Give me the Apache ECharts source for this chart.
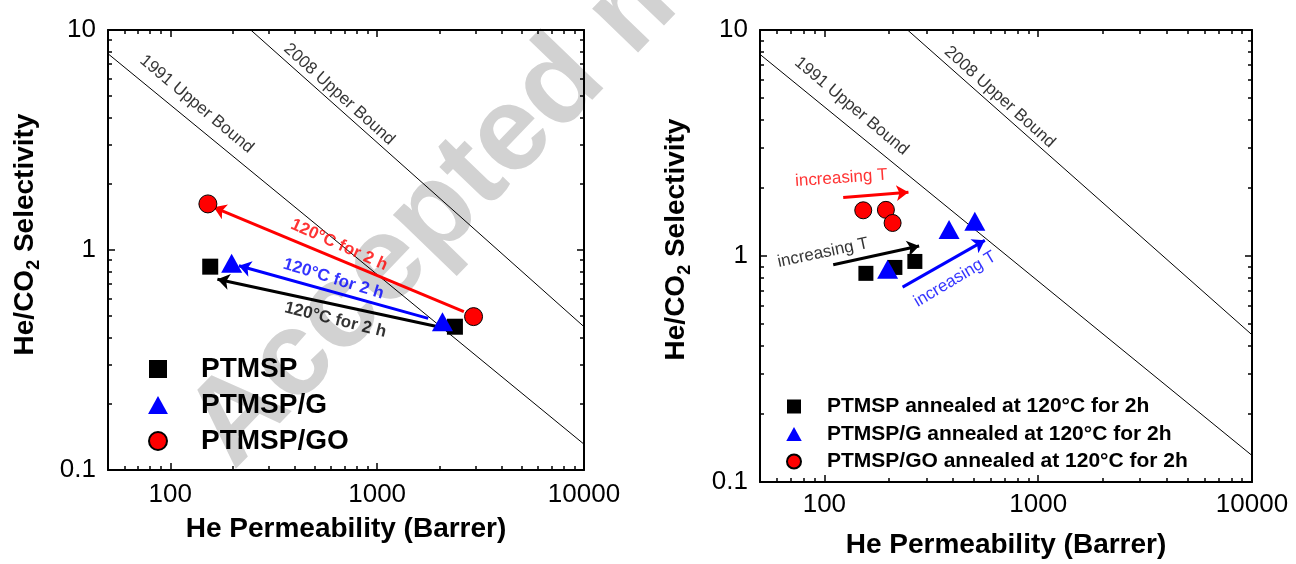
<!DOCTYPE html>
<html>
<head>
<meta charset="utf-8">
<script src="https://cdn.jsdelivr.net/npm/echarts@6/dist/echarts.min.js"></script>
<style>
  html, body { margin: 0; padding: 0; background: #ffffff; }
  #chart { width: 1296px; height: 564px; }
</style>
</head>
<body>
<div id="chart"></div>
<script>
// ---- axis ticks (log-log axes, both panels) ----
const xTickValues = [100, 1000, 10000];
const xMinorTicks = [60, 70, 80, 90, 200, 300, 400, 500, 600, 700, 800, 900,
                     2000, 3000, 4000, 5000, 6000, 7000, 8000, 9000];
const yTickValues = [0.1, 1, 10];
const yMinorTicks = [0.2, 0.3, 0.4, 0.5, 0.6, 0.7, 0.8, 0.9, 2, 3, 4, 5, 6, 7, 8, 9];

// ---- Robeson upper bounds [He permeability, He/CO2 selectivity] ----
const bound1991 = [[50, 7.8], [10000, 0.131]];
const bound2008 = [[245, 10], [10000, 0.448]];

// ---- left panel: as-cast vs. annealed (120 °C, 2 h) ----
const ptmspLeft   = [[156, 0.84], [2377, 0.448]];
const ptmspGLeft  = [[198, 0.87], [2069, 0.472]];
const ptmspGOLeft = [[152, 1.62], [2925, 0.498]];
const arrowPtmspLeft   = [[2331, 0.4325], [169, 0.736]];
const arrowPtmspGLeft  = [[1765, 0.489], [214.7, 0.848]];
const arrowPtmspGOLeft = [[2625, 0.5245], [162.4, 1.563]];

// ---- right panel: annealed membranes, increasing temperature ----
const ptmspRight   = [[156.4, 0.838], [213.7, 0.890], [265, 0.946]];
const ptmspGRight  = [[197.6, 0.873], [383, 1.31], [505.5, 1.426]];
const ptmspGORight = [[152, 1.593], [194, 1.60], [208.5, 1.40]];
const arrowPtmspRight   = [[110, 0.915], [277.5, 1.108]];
const arrowPtmspGRight  = [[232.2, 0.728], [562.9, 1.173]];
const arrowPtmspGORight = [[122.5, 1.816], [247.3, 1.916]];

// ---- legend names ----
const namesLeft  = ['PTMSP', 'PTMSP/G', 'PTMSP/GO'];
const namesRight = ['PTMSP annealed at 120°C for 2h', 'PTMSP/G annealed at 120°C for 2h',
                    'PTMSP/GO annealed at 120°C for 2h'];

const FONT = "'Liberation Sans', Arial, Helvetica, sans-serif";
const BLACK = '#000000', BLUE = '#0000ff', RED = '#ff0000';

// legend icons as paths so they keep their proportions
const ICON_SQUARE = 'path://M0,0L10,0L10,10L0,10Z';
const ICON_TRIANGLE = 'path://M10.5,0L21,19L0,19Z';

// in-plot annotations, anchored in data units
const notesLeft = [
  { text: '1991 Upper Bound', at: [134, 4.6],   rotate: -40, color: BLACK, size: 17, weight: 'normal' },
  { text: '2008 Upper Bound', at: [655, 5.1],   rotate: -42, color: BLACK, size: 17, weight: 'normal' },
  { text: '120°C for 2 h',    at: [655, 1.054], rotate: -24, color: RED,   size: 17, weight: 'bold' },
  { text: '120°C for 2 h',    at: [615, 0.738], rotate: -17, color: BLUE,  size: 17, weight: 'bold' },
  { text: '120°C for 2 h',    at: [628, 0.481], rotate: -14, color: BLACK, size: 17, weight: 'bold' }
];
const notesRight = [
  { text: '1991 Upper Bound', at: [134, 4.6],   rotate: -40, color: BLACK, size: 17, weight: 'normal' },
  { text: '2008 Upper Bound', at: [660, 5.05],  rotate: -42, color: BLACK, size: 17, weight: 'normal' },
  { text: 'increasing T',     at: [120, 2.21],  rotate: 4,   color: RED,   size: 17, weight: 'normal' },
  { text: 'increasing T',     at: [98.5, 1.033], rotate: 12, color: BLACK, size: 17, weight: 'normal' },
  { text: 'increasing T',     at: [408, 0.789], rotate: 31,  color: BLUE,  size: 17, weight: 'normal' }
];

const grids = [
  { left: 108, top: 30, width: 476, height: 440 },
  { left: 760, top: 30, width: 492, height: 457 }
];

const ySubRich = {
  a:   { fontSize: 28, fontWeight: 'bold', fontFamily: FONT, color: BLACK, lineHeight: 36 },
  sub: { fontSize: 18, fontWeight: 'bold', fontFamily: FONT, color: BLACK, lineHeight: 8, verticalAlign: 'bottom' }
};

function plainNumber(v) { return String(v); }

function xAxesFor(gridIndex, nameGap, labelMargin) {
  const base = { type: 'log', logBase: 10, min: 50, max: 10000, gridIndex: gridIndex,
                 splitLine: { show: false }, silent: true };
  return [
    Object.assign({}, base, {
      position: 'bottom',
      axisLine: { show: true, lineStyle: { color: BLACK, width: 2 } },
      axisTick: { show: true, inside: true, length: 7, customValues: xTickValues,
                  lineStyle: { color: BLACK, width: 1.5 } },
      axisLabel: { show: true, customValues: xTickValues, fontSize: 26, color: BLACK,
                   fontFamily: FONT, margin: labelMargin, formatter: plainNumber },
      name: 'He Permeability (Barrer)', nameLocation: 'middle', nameGap: nameGap,
      nameTextStyle: { fontSize: 28, fontWeight: 'bold', color: BLACK, fontFamily: FONT }
    }),
    Object.assign({}, base, {
      position: 'bottom', axisLine: { show: false },
      axisTick: { show: true, inside: true, length: 4, customValues: xMinorTicks,
                  lineStyle: { color: BLACK, width: 1.5 } },
      axisLabel: { show: false }
    }),
    Object.assign({}, base, {
      position: 'top',
      axisLine: { show: true, lineStyle: { color: BLACK, width: 2 } },
      axisTick: { show: true, inside: true, length: 7, customValues: xTickValues,
                  lineStyle: { color: BLACK, width: 1.5 } },
      axisLabel: { show: false }
    }),
    Object.assign({}, base, {
      position: 'top', axisLine: { show: false },
      axisTick: { show: true, inside: true, length: 4, customValues: xMinorTicks,
                  lineStyle: { color: BLACK, width: 1.5 } },
      axisLabel: { show: false }
    })
  ];
}

function yAxesFor(gridIndex, nameGap, shift) {
  const base = { type: 'log', logBase: 10, min: 0.1, max: 10, gridIndex: gridIndex,
                 splitLine: { show: false }, silent: true };
  return [
    Object.assign({}, base, {
      position: 'left',
      axisLine: { show: true, lineStyle: { color: BLACK, width: 2 } },
      axisTick: { show: true, inside: true, length: 7, customValues: yTickValues,
                  lineStyle: { color: BLACK, width: 1.5 } },
      axisLabel: { show: true, customValues: yTickValues, fontSize: 26, color: BLACK,
                   fontFamily: FONT, margin: 12, formatter: plainNumber },
      name: '{a|He/CO}{sub|2}{a| Selectivity}', nameLocation: 'middle', nameRotate: 90,
      nameGap: nameGap,
      nameTextStyle: { padding: [0, 0, 0, shift], rich: ySubRich }
    }),
    Object.assign({}, base, {
      position: 'left', axisLine: { show: false },
      axisTick: { show: true, inside: true, length: 4, customValues: yMinorTicks,
                  lineStyle: { color: BLACK, width: 1.5 } },
      axisLabel: { show: false }
    }),
    Object.assign({}, base, {
      position: 'right',
      axisLine: { show: true, lineStyle: { color: BLACK, width: 2 } },
      axisTick: { show: true, inside: true, length: 7, customValues: yTickValues,
                  lineStyle: { color: BLACK, width: 1.5 } },
      axisLabel: { show: false }
    }),
    Object.assign({}, base, {
      position: 'right', axisLine: { show: false },
      axisTick: { show: true, inside: true, length: 4, customValues: yMinorTicks,
                  lineStyle: { color: BLACK, width: 1.5 } },
      axisLabel: { show: false }
    })
  ];
}

function boundSeries(axisIndex, data) {
  return { type: 'line', xAxisIndex: axisIndex, yAxisIndex: axisIndex, data: data,
           symbol: 'none', silent: true, z: 2, animation: false,
           lineStyle: { color: BLACK, width: 1 } };
}

function arrowSeries(axisIndex, pts, color) {
  return { type: 'lines', coordinateSystem: 'cartesian2d', xAxisIndex: axisIndex, yAxisIndex: axisIndex,
           data: [{ coords: pts }], symbol: ['none', 'arrow'], symbolSize: 12, silent: true,
           z: 3, animation: false, lineStyle: { color: color, width: 3, opacity: 1, curveness: 0 } };
}

function markerSeries(axisIndex, name, data, shape, size, color, border) {
  return { type: 'scatter', name: name, xAxisIndex: axisIndex, yAxisIndex: axisIndex, data: data,
           symbol: shape, symbolSize: size, z: 4, animation: false,
           itemStyle: { color: color, opacity: 1, borderColor: BLACK, borderWidth: border ? 1 : 0 } };
}

function noteSeries(axisIndex, notes) {
  return { type: 'scatter', xAxisIndex: axisIndex, yAxisIndex: axisIndex, symbolSize: 0,
           silent: true, z: 5, animation: false,
           data: notes.map(function (n) {
             return { value: n.at, label: { show: true, position: 'inside', formatter: n.text,
                      rotate: n.rotate, color: n.color, fontSize: n.size, fontWeight: n.weight,
                      fontFamily: FONT } };
           }) };
}

const option = {
  backgroundColor: '#ffffff',
  animation: false,
  textStyle: { fontFamily: FONT },
  grid: grids,
  xAxis: xAxesFor(0, 45, 12).concat(xAxesFor(1, 49, 10)),
  yAxis: yAxesFor(0, 65, 31).concat(yAxesFor(1, 66, 33)),
  graphic: {
    elements: [{
      type: 'text', x: 210, y: 448, rotation: 46 * Math.PI / 180, z: -10, silent: true,
      style: { text: 'Accepted manuscript', fill: '#d2d2d2',
               font: 'bold 120px ' + FONT, textAlign: 'left', textVerticalAlign: 'middle' }
    }]
  },
  legend: [
    { data: [{ name: namesLeft[0], icon: ICON_SQUARE }, { name: namesLeft[1], icon: ICON_TRIANGLE },
             { name: namesLeft[2], icon: 'circle' }],
      orient: 'vertical', left: 148, top: 355, padding: 0, itemWidth: 76, itemHeight: 18,
      itemGap: 8, selectedMode: false, symbolKeepAspect: true,
      textStyle: { fontSize: 28, fontWeight: 'bold', color: BLACK, fontFamily: FONT, lineHeight: 28 } },
    { data: [{ name: namesRight[0], icon: ICON_SQUARE }, { name: namesRight[1], icon: ICON_TRIANGLE },
             { name: namesRight[2], icon: 'circle' }],
      orient: 'vertical', left: 786, top: 396, padding: 0, itemWidth: 56, itemHeight: 14,
      itemGap: 6.5, selectedMode: false, symbolKeepAspect: true,
      textStyle: { fontSize: 21, fontWeight: 'bold', color: BLACK, fontFamily: FONT, lineHeight: 21 } }
  ],
  series: [
    // left panel (axes 0)
    boundSeries(0, bound1991),
    boundSeries(0, bound2008),
    arrowSeries(0, arrowPtmspGOLeft, RED),
    arrowSeries(0, arrowPtmspGLeft, BLUE),
    arrowSeries(0, arrowPtmspLeft, BLACK),
    markerSeries(0, namesLeft[0], ptmspLeft, 'rect', 16, BLACK, false),
    markerSeries(0, namesLeft[1], ptmspGLeft, 'triangle', [21, 19], BLUE, false),
    markerSeries(0, namesLeft[2], ptmspGOLeft, 'circle', 18, RED, true),
    noteSeries(0, notesLeft),
    // right panel (axes 4)
    boundSeries(4, bound1991),
    boundSeries(4, bound2008),
    arrowSeries(4, arrowPtmspGORight, RED),
    arrowSeries(4, arrowPtmspRight, BLACK),
    arrowSeries(4, arrowPtmspGRight, BLUE),
    markerSeries(4, namesRight[0], ptmspRight, 'rect', 15, BLACK, false),
    markerSeries(4, namesRight[1], ptmspGRight, 'triangle', [21, 19], BLUE, false),
    markerSeries(4, namesRight[2], ptmspGORight, 'circle', 17, RED, true),
    noteSeries(4, notesRight)
  ]
};

const chart = echarts.init(document.getElementById('chart'), null, { renderer: 'canvas' });
chart.setOption(option);
</script>
</body>
</html>
